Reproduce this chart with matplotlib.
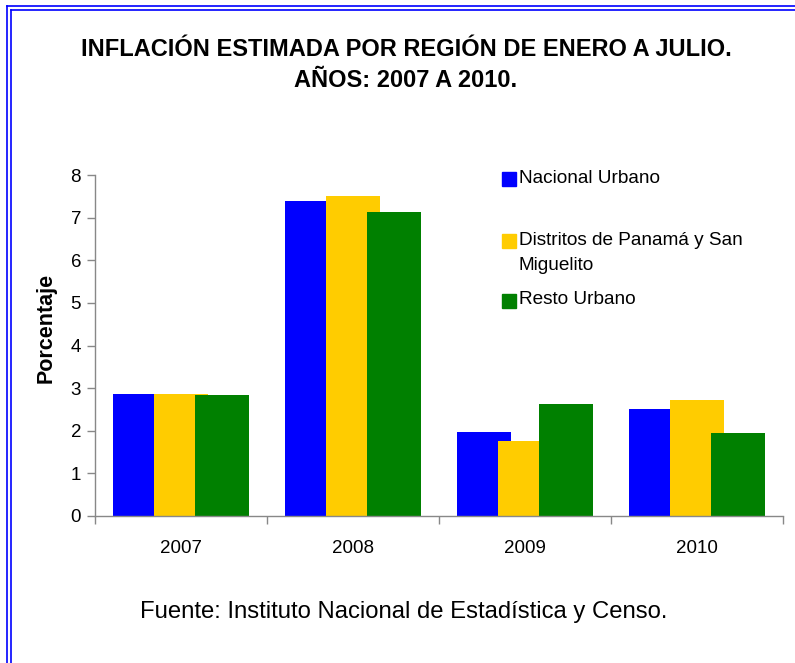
import numpy as np
import matplotlib
matplotlib.use("Agg")
import matplotlib.pyplot as plt
from matplotlib.patches import Rectangle
from matplotlib.lines import Line2D

plt.rcParams['font.family'] = ['Liberation Sans', 'DejaVu Sans']

# data
years = ['2007', '2008', '2009', '2010']
series_names = ['Nacional Urbano', 'Distritos de Panamá y San\nMiguelito', 'Resto Urbano']
nacional = [2.86, 7.39, 1.97, 2.52]
distritos = [2.86, 7.51, 1.75, 2.72]
resto = [2.84, 7.14, 2.63, 1.95]
colors = ['#0000FF', '#FFCC00', '#008000']

W, H = 795, 663
fig = plt.figure(figsize=(W / 100, H / 100), dpi=100)
ax = fig.add_axes([95 / W, 147 / H, 688 / W, 341 / H])

x = np.arange(len(years))
width = 0.314
step = 0.2355
for k, vals in enumerate([nacional, distritos, resto]):
    ax.bar(x + (k - 1) * step, vals, width, color=colors[k], linewidth=0, zorder=2)

ax.set_xlim(-0.5, len(years) - 0.5)
ax.set_ylim(0, 8)
ax.set_yticks(range(0, 9))
ax.set_xticks(x)
ax.set_xticklabels(years)
ax.set_xticks(np.arange(-0.5, len(years)), minor=True)
ax.tick_params(axis='x', which='major', length=0, pad=17, labelsize=13.5)
ax.tick_params(axis='x', which='minor', length=6, color='#888888', width=1)
ax.tick_params(axis='y', length=6, color='#888888', width=1, pad=4, labelsize=13.5)
for s in ['top', 'right']:
    ax.spines[s].set_visible(False)
for s in ['left', 'bottom']:
    ax.spines[s].set_color('#888888')
    ax.spines[s].set_linewidth(1)

# titles and labels
fig.text(406 / W, 1 - 65 / H, 'INFLACIÓN ESTIMADA POR REGIÓN DE ENERO A JULIO.\nAÑOS: 2007 A 2010.',
         ha='center', va='center', fontsize=17, fontweight='bold', linespacing=1.4)
fig.text(46 / W, 1 - 328 / H, 'Porcentaje', rotation=90, ha='center', va='center',
         fontsize=15.5, fontweight='bold')
fig.text(404 / W, 1 - 612 / H, 'Fuente: Instituto Nacional de Estadística y Censo.',
         ha='center', va='center', fontsize=17.2)

# legend
leg_y = [179, 253, 300]
sq_y = [179, 241, 301]
for name, c, ty, sy in zip(series_names, colors, leg_y, sq_y):
    fig.patches.append(Rectangle((502 / W, 1 - (sy + 7) / H), 14 / W, 14 / H,
                                 transform=fig.transFigure, color=c, figure=fig))
    fig.text(519 / W, 1 - ty / H, name, ha='left', va='center', fontsize=13.7, linespacing=1.6)

# double blue border
for xpx, ytop in [(7, 6), (11, 10)]:
    fig.lines.append(Line2D([xpx / W, xpx / W], [0, 1 - ytop / H], transform=fig.transFigure,
                            color='#0000FF', linewidth=1.2, figure=fig))
    fig.lines.append(Line2D([xpx / W, 1], [1 - ytop / H, 1 - ytop / H], transform=fig.transFigure,
                            color='#0000FF', linewidth=1.2, figure=fig))

fig.savefig('out.png', dpi=100)
